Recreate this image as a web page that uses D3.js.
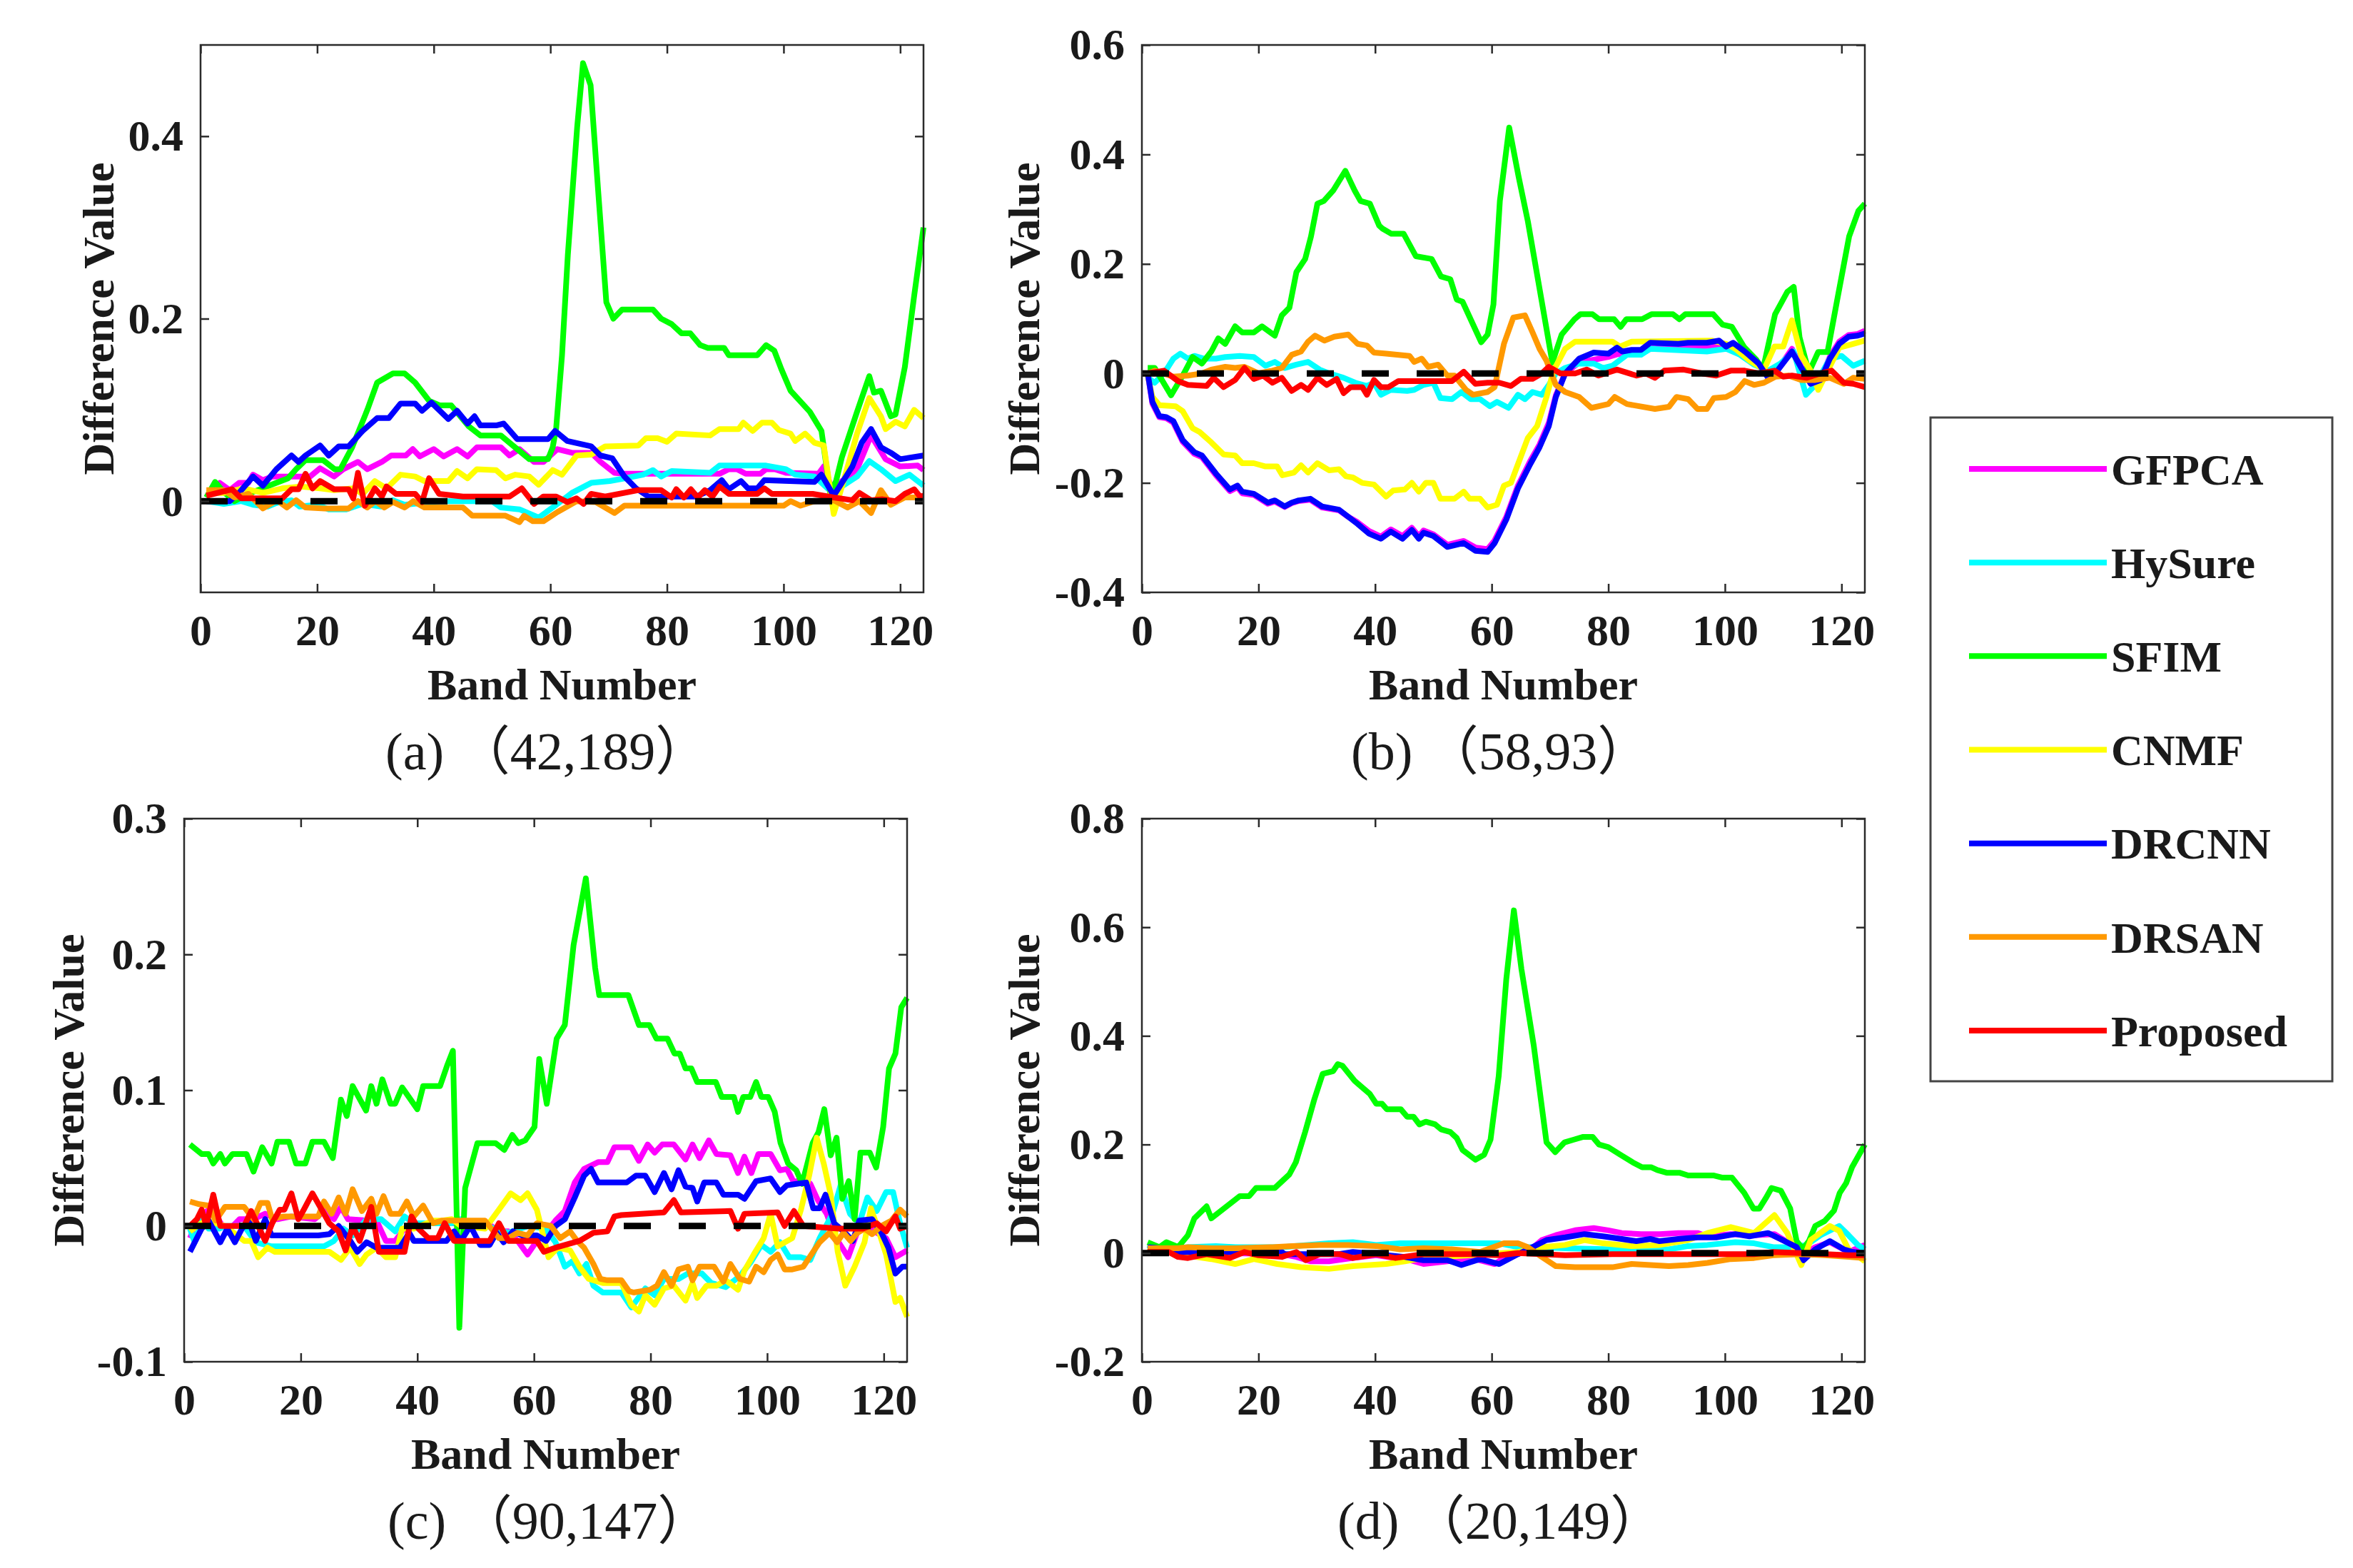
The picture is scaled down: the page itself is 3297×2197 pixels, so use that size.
<!DOCTYPE html>
<html>
<head>
<meta charset="utf-8">
<script src="https://cdn.jsdelivr.net/npm/d3@7"></script>
<style>
  body { margin: 0; background: #fff; }
  text { font-family: "Liberation Serif", "Times New Roman", serif; fill: #1a1a1a; }
</style>
</head>
<body>
<div id="chart"></div>
<script>
// Methods shown in every panel, and the tick labels
const methods = ["GFPCA", "HySure", "SFIM", "CNMF", "DRCNN", "DRSAN", "Proposed"];
const bandTicks = [0, 20, 40, 60, 80, 100, 120];
const captions = ["(a) （42,189）", "(b) （58,93）", "(c) （90,147）", "(d) （20,149）"];

// Panel (a) pixel (42,189) : [band, difference]
const a_GFPCA = [[1,0.004],[2,0.012],[3.3,0.02],[5,0.012],[6.6,0.02],[8.2,0.02],[9,0.029],[10.7,0.023],[12.3,0.027],[16.4,0.027],[18.8,0.027],[20.5,0.036],[22.9,0.027],[24.5,0.035],[27,0.043],[28.6,0.035],[31.1,0.043],[32.7,0.05],[35.2,0.05],[36.4,0.057],[37.6,0.049],[40,0.057],[41.7,0.049],[44,0.057],[45.8,0.049],[47.4,0.059],[51.5,0.059],[53,0.05],[54.7,0.057],[57.2,0.043],[58.8,0.043],[61.2,0.057],[63.7,0.053],[67,0.053],[68.6,0.043],[71,0.031],[72.7,0.03],[89,0.03],[90.6,0.035],[92,0.035],[93.5,0.03],[96,0.03],[97,0.035],[98.5,0.035],[100.4,0.031],[106,0.03],[106.9,0.038],[108.6,0.008],[110,0.022],[112.6,0.035],[115,0.072],[117.5,0.046],[120,0.038],[123,0.039],[124,0.034]];
const a_HySure = [[1,0],[4,-0.003],[7,0],[9,-0.004],[11.5,-0.006],[13,-0.002],[15.6,0.001],[17,-0.006],[20,-0.004],[22,-0.009],[25,-0.009],[27.8,-0.003],[31,-0.006],[33,0.001],[35,-0.004],[38,-0.002],[41,0],[50,0],[51.5,-0.007],[54.7,-0.009],[58,-0.018],[60.4,-0.007],[63.7,0.009],[67,0.02],[70.2,0.022],[72.7,0.025],[75.9,0.029],[77.6,0.034],[79,0.027],[80.8,0.033],[87.4,0.031],[89,0.039],[97,0.039],[100.4,0.035],[102,0.029],[105.3,0.027],[108.6,0.008],[110.2,0.017],[112.6,0.027],[114.7,0.044],[116.7,0.035],[119.2,0.022],[121.6,0.029],[124,0.017]];
const a_SFIM = [[1,0.004],[2.5,0.021],[4,0.01],[5.8,0],[7,0.004],[9,0.01],[11,0.015],[13,0.02],[15,0.025],[16.4,0.035],[18,0.045],[21,0.045],[23,0.035],[24,0.035],[26,0.059],[28.6,0.1],[30.3,0.13],[33,0.14],[35,0.14],[36.8,0.13],[39.2,0.11],[41,0.105],[43,0.105],[46,0.082],[48,0.072],[51.5,0.072],[53,0.064],[56.4,0.046],[59.6,0.046],[60.4,0.059],[61,0.08],[62,0.16],[63,0.27],[64.6,0.41],[65.6,0.48],[66.9,0.456],[68.2,0.34],[69.6,0.218],[70.8,0.2],[72.3,0.21],[77.6,0.21],[79,0.2],[80.8,0.194],[82.5,0.184],[84,0.184],[85.7,0.171],[87,0.168],[89.8,0.168],[90.6,0.16],[95.5,0.16],[97,0.171],[98.4,0.165],[99.6,0.145],[101.2,0.121],[104.5,0.098],[106.5,0.077],[108,0.009],[109,0.022],[110,0.048],[112.6,0.098],[114.7,0.137],[115.5,0.119],[116.7,0.121],[118.4,0.093],[119.2,0.095],[120.8,0.147],[122.4,0.225],[124,0.3]];
const a_CNMF = [[1,0.009],[4,0.009],[7.4,0.014],[10.7,0.009],[14,0.014],[17.2,0.016],[20.5,0.014],[22.9,0.012],[26.2,0.014],[27.8,0.008],[29.9,0.022],[31.9,0.014],[34.3,0.029],[36.8,0.027],[38.4,0.022],[42.5,0.022],[44,0.033],[45.8,0.025],[47.4,0.035],[50.7,0.034],[52.3,0.025],[54,0.029],[56.4,0.027],[58,0.018],[60.4,0.034],[62,0.029],[64.5,0.05],[67,0.051],[69.4,0.06],[75.1,0.061],[76.4,0.069],[78.4,0.069],[80,0.065],[81.6,0.074],[87.4,0.072],[89,0.079],[92.3,0.079],[93.1,0.086],[94.7,0.077],[96.3,0.086],[98,0.086],[99.2,0.078],[101.2,0.074],[102,0.066],[103.7,0.074],[105.3,0.064],[106.9,0.061],[108.6,-0.014],[110.2,0.02],[112.6,0.074],[114.7,0.113],[116.7,0.093],[117.5,0.079],[119.2,0.087],[120.8,0.082],[122.4,0.1],[124,0.091]];
const a_DRCNN = [[1,0],[5,0],[6.6,0.009],[9,0.027],[10.7,0.017],[13,0.035],[15.6,0.05],[16.8,0.043],[18,0.05],[20.5,0.061],[22,0.05],[23.7,0.06],[25.4,0.06],[27.8,0.077],[30.3,0.091],[32.3,0.091],[34.3,0.107],[36.8,0.107],[38,0.099],[39.6,0.108],[42.5,0.09],[44,0.099],[45.8,0.085],[47,0.093],[48,0.083],[50.7,0.083],[52,0.085],[54.3,0.068],[59.6,0.068],[60.8,0.077],[62.9,0.066],[67,0.06],[68.6,0.05],[70.6,0.047],[72.7,0.027],[74.7,0.014],[76.8,0.005],[85,0.005],[87.4,0.012],[89.4,0.023],[90.6,0.013],[92.7,0.022],[93.9,0.014],[95.5,0.014],[96.7,0.023],[105.3,0.021],[106.5,0.029],[108.6,0.006],[110.2,0.022],[111.8,0.038],[113.4,0.064],[115,0.079],[116.7,0.059],[118.4,0.053],[120,0.046],[124,0.05]];
const a_DRSAN = [[1,0.012],[4,0.012],[5.8,0.004],[8.2,0.008],[10.7,-0.008],[13.1,0.001],[14.8,-0.007],[16.4,0.001],[18,-0.007],[21.3,-0.008],[25.4,-0.008],[27,0],[28.6,-0.007],[30,0],[31.5,-0.007],[33,-0.001],[35,-0.007],[36.5,0],[38.4,-0.007],[45,-0.007],[46.6,-0.016],[52.3,-0.016],[54.7,-0.023],[55.5,-0.016],[57,-0.022],[58.8,-0.022],[61.2,-0.012],[64.5,0],[67.8,-0.001],[71,-0.013],[72.7,-0.005],[100,-0.005],[101.2,0],[102.9,-0.005],[105.3,0],[108.6,0.001],[111,-0.007],[113,0],[115,-0.013],[116.7,0.012],[118.4,-0.004],[120.8,0.004],[124,0.004]];
const a_Proposed = [[1,0.006],[5.4,0.013],[7,0.003],[14,0.003],[15.6,0.013],[16.8,0.013],[18,0.03],[19.2,0.014],[20.5,0.022],[22.9,0.013],[25.4,0.013],[26.2,0.003],[27,0.031],[28.2,-0.005],[29.9,0.014],[31.1,0.005],[31.9,0.016],[33.5,0.008],[36.8,0.008],[38,-0.001],[39.2,0.025],[40.9,0.008],[45,0.005],[53,0.005],[55.1,0.014],[57.2,-0.003],[58.8,0.005],[61,0.005],[62.9,-0.001],[64.5,0.003],[65.7,-0.003],[67,0.008],[69.4,0.005],[75,0.012],[79,0.012],[80.8,0.004],[81.6,0.013],[82.9,0.004],[84.1,0.013],[85.3,0.004],[86.5,0.012],[87.8,0.005],[89,0.016],[90.6,0.008],[95.5,0.008],[96.7,0.014],[98,0.008],[105,0.008],[108.6,0.004],[111.8,0.001],[113,0.009],[115,0.001],[117,0.002],[119.2,0],[120.8,0.008],[122.4,0.013],[123.4,0.005],[124,0.006]];

// Panel (b) pixel (58,93)
const b_GFPCA = [[1,0],[1.8,-0.055],[3,-0.08],[4.2,-0.082],[5.4,-0.09],[7,-0.125],[9,-0.147],[10.3,-0.153],[12.7,-0.186],[15.1,-0.215],[16.4,-0.208],[17.2,-0.219],[19.2,-0.222],[21.6,-0.238],[22.8,-0.234],[24.5,-0.244],[25.7,-0.237],[26.9,-0.233],[28.9,-0.231],[30.9,-0.245],[33.8,-0.25],[35.4,-0.262],[37,-0.272],[39,-0.288],[41,-0.298],[42.7,-0.285],[44.7,-0.297],[46.3,-0.282],[47.5,-0.297],[48.3,-0.287],[50,-0.294],[52.4,-0.313],[55.2,-0.306],[57.2,-0.318],[59.3,-0.321],[60.5,-0.305],[62.5,-0.262],[64.5,-0.205],[66.6,-0.16],[68.2,-0.13],[69.8,-0.09],[71,-0.04],[72.6,0],[75,0.02],[77.5,0.025],[80,0.03],[81.5,0.035],[84,0.035],[85.6,0.036],[87.2,0.045],[92,0.048],[96.9,0.05],[99,0.052],[100.2,0.045],[101.4,0.05],[103.4,0.035],[105.8,0.014],[107.4,-0.005],[109,0.006],[111.5,0.045],[113.1,0.012],[114.7,-0.016],[116.4,-0.01],[118,0.03],[119.6,0.058],[121.2,0.07],[122.8,0.072],[124,0.078]];
const b_HySure = [[1,-0.008],[2.2,-0.017],[3.8,0],[5.4,0.027],[6.6,0.036],[7.9,0.027],[9,0.032],[10.7,0.027],[12.7,0.027],[14.3,0.03],[16.8,0.032],[19.2,0.03],[21.2,0.014],[22.8,0.021],[24.5,0.01],[26.5,0.016],[28.5,0.021],[30.5,0.007],[32.1,0],[34.6,-0.008],[36.6,-0.017],[38.6,-0.023],[39.8,-0.017],[41,-0.039],[42.7,-0.03],[45.5,-0.032],[46.7,-0.03],[48.3,-0.021],[50,-0.017],[51.2,-0.045],[53.2,-0.047],[54.8,-0.034],[56.4,-0.047],[58,-0.047],[59.7,-0.06],[60.9,-0.052],[62.9,-0.063],[64.5,-0.039],[65.7,-0.047],[67,-0.034],[68.6,-0.039],[69.8,-0.021],[71,0],[72.6,0.01],[75,0.018],[77.5,0.018],[79.1,0.01],[80.7,0.014],[83.2,0.034],[85.6,0.034],[87.2,0.045],[96.9,0.04],[100.2,0.045],[102.6,0.034],[105,0.016],[107.4,0.005],[109.5,0.018],[111.8,0.04],[113.9,-0.039],[115.5,-0.021],[118,0.027],[120,0.032],[122,0.014],[124,0.023]];
const b_SFIM = [[1,0.01],[2.2,0.01],[5,-0.04],[7,-0.004],[8.7,0.03],[10.3,0.018],[11.9,0.04],[13.1,0.064],[14.3,0.054],[16,0.086],[17.2,0.075],[19.2,0.075],[20.6,0.086],[22.8,0.069],[24,0.106],[25.3,0.12],[26.5,0.185],[28,0.209],[29,0.25],[30.1,0.31],[31.2,0.315],[32.8,0.334],[34.9,0.37],[36.5,0.334],[37.5,0.315],[39.1,0.31],[40.7,0.27],[41.2,0.265],[42.8,0.255],[44.9,0.255],[47,0.214],[49.7,0.209],[51.3,0.177],[52.9,0.172],[54,0.135],[55,0.131],[58.2,0.057],[59.3,0.071],[60.3,0.126],[61.4,0.315],[63,0.449],[64.6,0.36],[66.2,0.278],[68.3,0.149],[70.4,0.02],[72,0.071],[74.2,0.099],[75.2,0.108],[77.3,0.108],[78.4,0.099],[81,0.099],[82.1,0.085],[83.1,0.099],[85.8,0.099],[87.4,0.108],[91.1,0.108],[92.2,0.099],[93.2,0.108],[98,0.108],[99.6,0.089],[101.2,0.085],[103.3,0.048],[105.4,0.025],[106.5,0.006],[108.6,0.108],[110.7,0.149],[111.8,0.158],[112.8,0.066],[114.4,0.002],[116,0.039],[117.6,0.039],[119.2,0.131],[121.3,0.25],[122.9,0.297],[124,0.31]];
const b_CNMF = [[1,-0.004],[1.8,-0.043],[3,-0.058],[5.8,-0.06],[7,-0.069],[8.7,-0.1],[9.9,-0.107],[11.9,-0.126],[14,-0.148],[16,-0.15],[17.2,-0.164],[19.2,-0.164],[21.2,-0.17],[23.2,-0.17],[24.1,-0.186],[26.1,-0.181],[27.3,-0.168],[28.5,-0.181],[30.1,-0.164],[32.1,-0.177],[33.8,-0.175],[35,-0.188],[36.2,-0.19],[37.8,-0.2],[39.8,-0.203],[41.9,-0.225],[43.1,-0.214],[45.1,-0.212],[46.3,-0.2],[47.5,-0.216],[48.7,-0.2],[50,-0.2],[51.2,-0.229],[53.6,-0.229],[55.2,-0.216],[56.2,-0.229],[58,-0.229],[59.3,-0.245],[60.9,-0.24],[62.1,-0.205],[63.3,-0.2],[64.5,-0.166],[66.2,-0.118],[67.8,-0.096],[69.4,-0.043],[70.6,0.005],[72.6,0.045],[74.3,0.058],[80.7,0.058],[82,0.049],[84,0.058],[97.7,0.06],[100.2,0.054],[101.8,0.045],[104.3,0.023],[106.7,0.007],[108.5,0.049],[110,0.049],[111.5,0.097],[113.1,0.032],[114.7,0.005],[116,-0.03],[117.4,0],[119.6,0.047],[122,0.054],[124,0.06]];
const b_DRCNN = [[1,0],[1.8,-0.052],[3,-0.078],[4.2,-0.08],[5.4,-0.087],[7,-0.122],[9,-0.144],[10.3,-0.15],[12.7,-0.183],[15.1,-0.212],[16.4,-0.205],[17.2,-0.216],[19.2,-0.22],[21.6,-0.236],[22.8,-0.232],[24.5,-0.243],[25.7,-0.236],[26.9,-0.232],[28.9,-0.229],[30.9,-0.243],[33.8,-0.249],[35.4,-0.262],[37,-0.275],[39,-0.293],[41,-0.302],[42.7,-0.289],[44.7,-0.302],[46.3,-0.286],[47.5,-0.302],[48.3,-0.291],[50,-0.297],[52.4,-0.317],[55.2,-0.31],[57.2,-0.324],[59.3,-0.326],[60.5,-0.31],[62.5,-0.267],[64.5,-0.21],[66.6,-0.166],[68.2,-0.135],[69.8,-0.096],[71,-0.043],[72.6,0],[75,0.027],[77.5,0.038],[80,0.036],[81.5,0.047],[82.4,0.04],[84,0.043],[85.6,0.043],[87.2,0.056],[92,0.054],[93.7,0.056],[96.9,0.056],[99,0.06],[100.2,0.049],[101.4,0.056],[103.4,0.04],[105.8,0.018],[107.4,-0.008],[109,0.005],[111.5,0.04],[113.1,0.01],[114.7,-0.019],[116.4,-0.012],[118,0.027],[119.6,0.054],[121.2,0.067],[122.8,0.069],[124,0.073]];
const b_DRSAN = [[1,0],[2.2,0.005],[5.4,-0.006],[7.9,-0.004],[10.3,0],[11.9,0.007],[14.3,0.012],[16,0.01],[17.6,0.012],[20,0],[22.4,0.005],[24,0.01],[25.7,0.034],[27.3,0.04],[28.5,0.058],[29.7,0.069],[31.3,0.06],[33,0.067],[35.4,0.071],[37,0.054],[38.6,0.051],[39.8,0.038],[41.9,0.036],[45.9,0.032],[46.7,0.021],[48,0.027],[49.1,0.012],[50.8,0.016],[52.4,-0.004],[53.6,-0.004],[55.6,-0.03],[56.8,-0.039],[59.3,-0.034],[60.5,-0.025],[62.1,0.054],[63.7,0.102],[65.7,0.106],[67,0.075],[68.2,0.045],[69.4,0.023],[71,-0.021],[72.6,-0.034],[75,-0.043],[77.1,-0.063],[80,-0.056],[81.1,-0.043],[83.2,-0.056],[88,-0.065],[90.4,-0.061],[91.7,-0.043],[93.7,-0.047],[95.3,-0.065],[96.9,-0.065],[98.1,-0.045],[100.2,-0.043],[101.8,-0.034],[103.4,-0.014],[105,-0.021],[106.7,-0.017],[108.7,-0.006],[110.9,-0.004],[113.1,-0.012],[115.5,-0.012],[118,-0.008],[120.4,-0.019],[122,-0.008],[124,-0.01]];
const b_Proposed = [[1,0],[3.8,0.005],[6.2,-0.014],[7.9,-0.021],[11.1,-0.023],[12.3,-0.008],[14,-0.025],[16,-0.012],[17.6,0.01],[19.2,-0.01],[20.8,-0.004],[22.4,-0.017],[24,-0.008],[25.7,-0.032],[27.3,-0.021],[28.5,-0.03],[30.1,-0.008],[31.7,-0.021],[33.4,-0.01],[34.6,-0.036],[35.8,-0.025],[37.8,-0.025],[38.6,-0.039],[39.8,-0.012],[41,-0.025],[42.3,-0.025],[44,-0.014],[53.2,-0.014],[55.2,0.003],[57.2,-0.019],[59.3,-0.017],[61.3,-0.017],[63.3,-0.023],[65,-0.01],[67,-0.01],[68.6,0],[69.8,0.012],[71.8,0],[74.3,0],[76.3,0.007],[78.3,-0.004],[81.5,0.007],[84.8,-0.004],[86.4,0],[88,-0.008],[89.6,0.005],[92.9,0.007],[96.1,0],[98.5,-0.004],[101,0.005],[103.4,0.005],[105.8,0],[108.5,0.005],[110,-0.006],[111.5,-0.004],[114,-0.008],[116.4,0],[118.3,0.005],[120.4,-0.017],[122,-0.019],[124,-0.025]];

// Panel (c) pixel (90,147)
const c_GFPCA = [[1,-0.009],[2.6,0.007],[4.6,0.013],[6.6,0],[7.9,-0.002],[9.5,0.005],[11.9,0.005],[13.9,0.009],[16,0.005],[18.4,0.007],[22.4,0.005],[24,0.011],[25.7,0.005],[26.9,0.014],[28.1,0.005],[31.3,0.004],[33,0.004],[34.6,-0.011],[36.2,-0.011],[37.8,-0.002],[39.4,0.002],[52,0.002],[54,-0.004],[55.6,-0.004],[57.2,-0.011],[58.9,-0.021],[60.5,-0.011],[62.1,-0.005],[63.7,0.004],[65.3,0.011],[67,0.032],[68.6,0.042],[71,0.047],[72.6,0.047],[73.8,0.058],[76.7,0.058],[78,0.048],[79.5,0.06],[80.7,0.054],[82,0.06],[84,0.06],[86,0.049],[87.2,0.06],[88.4,0.05],[90,0.063],[91.3,0.053],[93.7,0.052],[95,0.039],[96.1,0.051],[97.3,0.039],[98.5,0.053],[100.6,0.053],[102.2,0.041],[103.4,0.042],[104.6,0.032],[106.2,0.035],[107.4,0.031],[108.7,0.019],[110.2,0.009],[111.8,-0.009],[113.9,-0.023],[115.5,-0.004],[117.2,0],[118.8,-0.005],[120.4,-0.009],[122,-0.023],[124,-0.018]];
const c_HySure = [[1,-0.002],[1.8,-0.012],[3,0.005],[4.2,-0.002],[6,-0.002],[7,0],[10.3,0],[12.3,-0.012],[15,-0.015],[24,-0.015],[25.7,-0.011],[27.3,-0.002],[28.9,-0.007],[31.3,0.005],[33.8,0.005],[36.2,-0.004],[37.8,0.007],[39.4,0.002],[46,0.002],[47.5,0.005],[49,0.002],[52,0],[55.6,-0.005],[59,0],[62,-0.002],[63.7,-0.012],[65.3,-0.03],[66.6,-0.026],[67.8,-0.035],[69,-0.028],[70.2,-0.044],[71.8,-0.049],[75,-0.049],[76.7,-0.06],[79.1,-0.046],[80.7,-0.051],[82.3,-0.039],[84.8,-0.039],[86.4,-0.035],[88.8,-0.035],[90.4,-0.042],[92.9,-0.045],[95.3,-0.037],[97.3,-0.026],[99,-0.014],[100.6,-0.019],[102.2,-0.012],[103.8,-0.023],[105.8,-0.023],[107.4,-0.025],[109,-0.009],[111.2,0.009],[112.6,0.03],[114.2,0.009],[115.8,0.002],[117.2,0.021],[118.8,0.011],[120.4,0.025],[121.6,0.025],[122.8,0.002],[124,-0.016]];
const c_SFIM = [[1,0.06],[3,0.053],[4.2,0.053],[5,0.046],[6.2,0.053],[7,0.046],[8.3,0.053],[10.7,0.053],[11.9,0.04],[13.4,0.058],[15,0.046],[16,0.062],[18,0.062],[19.2,0.046],[20.8,0.046],[22,0.062],[24,0.062],[25.5,0.05],[26.9,0.093],[27.9,0.081],[28.9,0.103],[31.2,0.085],[32.1,0.103],[33,0.09],[34,0.108],[35.4,0.09],[36.2,0.09],[37.4,0.102],[40,0.086],[41,0.103],[43.9,0.103],[45.1,0.118],[46.1,0.129],[47.2,-0.075],[48.2,0.028],[50.3,0.061],[53.4,0.061],[54.9,0.056],[56.3,0.067],[57.3,0.061],[58.5,0.063],[60.1,0.073],[60.9,0.123],[62.2,0.09],[63.9,0.138],[65.3,0.148],[66.8,0.207],[68.9,0.256],[70.5,0.19],[71.2,0.17],[76.2,0.17],[78,0.148],[79.8,0.148],[81,0.138],[82.9,0.138],[84.1,0.127],[85,0.127],[86,0.116],[87,0.116],[88,0.106],[91.2,0.106],[92.2,0.095],[94.3,0.095],[95,0.084],[95.9,0.095],[97.1,0.095],[98.1,0.106],[99,0.095],[100.2,0.095],[101.3,0.084],[102.3,0.061],[103.6,0.046],[105,0.041],[106,0.031],[107.8,0.061],[108.8,0.069],[109.8,0.086],[110.9,0.052],[111.9,0.065],[112.9,0.02],[114,0.033],[115,0.005],[116,0.054],[117.6,0.054],[118.7,0.043],[119.9,0.073],[120.9,0.116],[122,0.127],[123,0.161],[124,0.168]];
const c_CNMF = [[1,-0.004],[2.2,0],[3.8,0.004],[7,0],[10.3,-0.011],[11.5,-0.011],[12.7,-0.023],[14.3,-0.016],[15.5,-0.019],[24.9,-0.019],[26.9,-0.025],[28.5,-0.016],[30.1,-0.028],[31.3,-0.021],[33,-0.016],[34.6,-0.023],[36.2,-0.023],[37.4,-0.002],[39.4,-0.002],[42.7,0.004],[44.3,0.004],[45.9,0.005],[47.5,0],[51.6,-0.002],[54,0.012],[56,0.024],[57.7,0.019],[58.9,0.024],[60.5,0.012],[62.5,-0.023],[64.1,-0.016],[66.2,-0.018],[67.8,-0.03],[69.4,-0.039],[71.8,-0.042],[75,-0.042],[76.7,-0.058],[78,-0.063],[79.1,-0.051],[80.7,-0.058],[82.3,-0.046],[84,-0.044],[86,-0.055],[87.2,-0.042],[88,-0.053],[89.6,-0.044],[91.3,-0.044],[92.9,-0.04],[95,-0.047],[96.1,-0.033],[97.7,-0.021],[99.4,-0.009],[100.6,0.009],[101.8,-0.015],[104.3,-0.009],[105.8,0.012],[107.2,0.037],[108.5,0.065],[109.7,0.046],[110.9,0.023],[112.1,-0.019],[113.4,-0.044],[115,-0.03],[116.7,-0.012],[117.8,0.013],[119,-0.002],[120.4,-0.021],[122,-0.056],[122.8,-0.053],[124,-0.067]];
const c_DRCNN = [[1,-0.019],[3,-0.002],[4.2,0.004],[6.2,-0.012],[7.4,-0.002],[8.7,-0.012],[9.9,-0.002],[11.1,0.004],[12.3,-0.011],[13.9,0.005],[15,-0.007],[23,-0.007],[24.9,-0.006],[26.5,0],[28.5,-0.011],[29.7,-0.019],[31.3,-0.012],[33,-0.016],[37,-0.016],[38.6,-0.005],[39.4,-0.011],[45,-0.011],[46.3,-0.004],[47.5,-0.011],[49.1,0],[50.8,-0.014],[52.4,-0.014],[53.6,-0.005],[54.8,-0.012],[56.4,-0.004],[58,-0.007],[60.5,-0.007],[62.1,-0.011],[63.7,0],[65.3,0.005],[67,0.021],[68.6,0.037],[69.8,0.042],[71,0.032],[75.9,0.032],[77.5,0.037],[79.1,0.037],[80.7,0.025],[82.3,0.039],[83.6,0.027],[84.8,0.041],[86,0.029],[87.2,0.028],[88,0.018],[89.2,0.032],[91.3,0.032],[92.5,0.023],[95,0.023],[96.1,0.02],[98.1,0.033],[100.6,0.035],[102.2,0.025],[103.4,0.03],[105,0.031],[106.7,0.032],[107.9,0.013],[109,0.013],[110,0.023],[111.5,0.002],[113.1,-0.004],[114.7,-0.011],[115.8,0.004],[118,0.005],[119.6,-0.005],[120.8,-0.016],[122,-0.035],[123.2,-0.03],[124,-0.03]];
const c_DRSAN = [[1,0.018],[2.6,0.016],[4.2,0.015],[5.4,0.004],[7,0.014],[10.3,0.014],[11.9,0.005],[13.1,0.017],[14.3,0.017],[15.1,0.005],[17,0.007],[23,0.007],[24,0.018],[25.3,0.009],[26.5,0.021],[27.7,0.009],[28.9,0.027],[30.5,0.011],[32.1,0.02],[33,0.009],[34.2,0.022],[35.4,0.009],[37,0.009],[38.2,0.018],[39.4,0.007],[41,0.015],[42.7,0.002],[44.3,0.004],[51.6,0.004],[54,-0.009],[55.6,-0.009],[57.2,-0.005],[58.9,-0.007],[60.5,0.002],[62.9,0],[64.5,-0.009],[66.2,-0.004],[67.4,-0.011],[68.6,-0.016],[70.2,-0.028],[71.4,-0.039],[72.6,-0.04],[75,-0.04],[76.3,-0.048],[77.1,-0.049],[79.9,-0.047],[81.1,-0.044],[82.3,-0.034],[83.6,-0.044],[84.8,-0.032],[86.4,-0.03],[87.2,-0.04],[88.4,-0.03],[90.9,-0.03],[92.5,-0.041],[93.7,-0.028],[95.3,-0.039],[96.9,-0.041],[98.1,-0.03],[99.4,-0.034],[100.6,-0.025],[101.8,-0.021],[103,-0.032],[104.3,-0.032],[106.2,-0.03],[107.9,-0.019],[109,-0.012],[110.7,-0.005],[112,-0.012],[113.1,-0.005],[114.3,-0.011],[115.5,-0.005],[116.7,-0.002],[118,-0.006],[119.6,0],[121.3,0.004],[122.8,0.012],[124,0.007]];
const c_Proposed = [[1,0],[2.2,0.005],[3,0.012],[3.8,0],[5,0.023],[6.2,0],[10.3,0],[11.5,0.011],[12.7,0],[13.9,-0.011],[15.1,0.002],[16.4,0.012],[17.2,0.012],[18.4,0.024],[19.6,0.005],[20.4,0.011],[22,0.024],[23.6,0.012],[24.9,0.002],[26.5,-0.004],[27.7,-0.018],[28.9,0],[30.1,-0.011],[32.1,0.014],[33.4,-0.019],[37.8,-0.019],[39,0.007],[40.2,-0.002],[41.9,-0.009],[43.5,-0.009],[44.7,0.002],[46.3,-0.011],[52.4,-0.011],[54,0.002],[55.6,-0.011],[60.5,-0.011],[61.7,-0.019],[63.7,-0.016],[67.8,-0.011],[70.2,-0.005],[72.6,-0.004],[73.8,0.007],[75,0.008],[82.3,0.01],[84,0.019],[85.2,0.01],[93.7,0.011],[95,-0.002],[96.1,0.009],[101.8,0.01],[103,0],[104.6,0.011],[106.2,0],[112.3,-0.002],[116.4,-0.002],[118.8,0.002],[120.4,-0.004],[122,0.007],[122.8,-0.002],[124,0]];

// Panel (d) pixel (20,149)
const d_GFPCA = [[1,0.015],[3,0.007],[6.2,0.002],[24,-0.002],[26.5,-0.007],[28.9,-0.015],[32.1,-0.015],[36.2,-0.009],[40.2,-0.004],[46,-0.013],[48.3,-0.02],[52.4,-0.015],[56.4,-0.009],[60.5,-0.02],[62.9,-0.004],[66.2,0.002],[68.6,0.024],[71,0.033],[74.3,0.042],[77.5,0.046],[80,0.042],[82.3,0.037],[85.6,0.035],[88.8,0.035],[92,0.037],[95.3,0.037],[97,0.031],[101,0.035],[105,0.033],[108.5,0.035],[111.5,0.015],[113.1,-0.004],[115.5,0.011],[118,0.02],[121.2,0.002],[124,0.015]];
const d_HySure = [[1,0.015],[3,0.007],[7.9,0.011],[12.7,0.013],[16,0.011],[24,0.011],[32.1,0.018],[36.2,0.02],[40.2,0.015],[44.3,0.018],[48.3,0.018],[52.4,0.018],[56.4,0.018],[61.3,0.018],[64.5,0.011],[68.6,0.011],[72.6,0.009],[80.7,0.007],[87.2,0.007],[90.4,0.007],[93.7,0.013],[97,0.015],[101.8,0.02],[105,0.018],[108.3,0.011],[111.5,0.011],[114,0.015],[116.4,0.033],[119.6,0.05],[121.2,0.033],[122.8,0.015],[124,0.007]];
const d_SFIM = [[1,0.02],[3,0.011],[4.2,0.02],[5.4,0.015],[6.2,0.011],[7.9,0.033],[9,0.064],[11.1,0.086],[11.9,0.064],[16.8,0.105],[18.4,0.105],[19.6,0.12],[22.8,0.12],[25.3,0.145],[26.4,0.167],[28,0.223],[29.6,0.284],[31,0.33],[32.8,0.335],[33.6,0.348],[34.4,0.345],[36.5,0.317],[39.1,0.293],[40.2,0.275],[41.2,0.275],[42,0.265],[44.4,0.265],[45.5,0.251],[46.6,0.251],[47.6,0.237],[48.7,0.242],[50.3,0.237],[51.3,0.228],[52.9,0.223],[54,0.212],[55,0.19],[57.2,0.172],[58.7,0.181],[59.8,0.209],[61.2,0.326],[62.5,0.504],[63.8,0.631],[65.1,0.523],[67.2,0.383],[69.4,0.204],[70.9,0.186],[72.5,0.204],[74.1,0.209],[75.7,0.214],[77.3,0.214],[78.4,0.2],[80,0.195],[82.1,0.181],[84.2,0.167],[85.8,0.158],[87.4,0.158],[88.4,0.153],[90,0.148],[92.2,0.148],[93.7,0.143],[98,0.143],[99.6,0.139],[101.2,0.139],[103.3,0.111],[104.9,0.082],[105.9,0.082],[107,0.101],[108,0.12],[109.6,0.115],[111.2,0.082],[112.3,0.022],[113.4,0.008],[114.4,0.022],[115.5,0.05],[117.1,0.059],[118.7,0.078],[119.7,0.111],[120.8,0.129],[121.8,0.158],[124,0.2]];
const d_CNMF = [[1,0.011],[6.2,-0.002],[11.9,-0.011],[16,-0.02],[19.2,-0.011],[23.2,-0.02],[27.3,-0.026],[32.1,-0.029],[36.2,-0.024],[41.9,-0.02],[45.1,-0.015],[48.3,-0.009],[56.4,-0.004],[64.5,0.002],[68.6,0.011],[72.6,0.015],[75.9,0.024],[79.1,0.018],[84,0.013],[88.8,0.015],[93.7,0.024],[97,0.037],[101,0.048],[105,0.037],[108.5,0.07],[110.7,0.037],[113.1,-0.022],[114.7,0.024],[118,0.05],[119.6,0.041],[121.2,0.007],[124,-0.015]];
const d_DRCNN = [[1,0.011],[3,0.009],[6.2,0.002],[24,0.002],[24.5,-0.002],[33.8,-0.002],[36.2,0.002],[40.2,-0.002],[45,-0.007],[48.3,-0.013],[52.4,-0.013],[54.8,-0.022],[58,-0.011],[61.3,-0.02],[64.5,-0.002],[67,0.011],[69.4,0.024],[72.6,0.029],[75.9,0.035],[79.1,0.031],[82.3,0.026],[84.8,0.022],[87.2,0.026],[88.8,0.022],[92,0.026],[95.3,0.029],[98.5,0.029],[101.8,0.035],[104.2,0.031],[107.4,0.037],[109.9,0.024],[112.3,0.011],[113.5,-0.013],[115.5,0.007],[118,0.022],[120.4,0.007],[122,0.002],[124,0]];
const d_DRSAN = [[1,0.009],[6.2,0.009],[7.9,0.011],[12,0.009],[16,0.009],[22.4,0.011],[25.7,0.013],[30.5,0.015],[35.4,0.015],[40.2,0.013],[44.3,0.007],[48.3,0.009],[53.2,0.007],[58,0.002],[62.1,0.018],[64.5,0.018],[66.2,0.011],[68.6,-0.007],[71,-0.024],[74.3,-0.026],[80.7,-0.026],[84,-0.02],[87.2,-0.022],[90.4,-0.024],[93.7,-0.022],[97,-0.018],[101,-0.011],[105,-0.009],[108.3,-0.004],[113.1,-0.002],[117.2,-0.004],[121.2,-0.007],[124,-0.009]];
const d_Proposed = [[1,0.002],[4.6,0.002],[6.2,-0.007],[7.9,-0.009],[11.1,-0.002],[15.1,-0.009],[17.6,0.002],[20,-0.004],[24,-0.007],[26.5,0.002],[28.1,-0.013],[30.5,-0.002],[34,-0.002],[36.2,-0.009],[40.2,-0.002],[43.5,-0.009],[48.3,-0.002],[56.4,-0.002],[61.3,-0.004],[64.5,0],[68.6,-0.002],[72.6,-0.004],[80.7,-0.002],[89,-0.002],[97,-0.002],[105,-0.002],[108.3,0.002],[113.1,0],[117.2,-0.002],[121.2,-0.004],[124,-0.004]];

// y ranges and ticks per panel
const yDomains = [[-0.1, 0.5], [-0.4, 0.6], [-0.1, 0.3], [-0.2, 0.8]];
const yTickValues = [[0, 0.2, 0.4], [-0.4, -0.2, 0, 0.2, 0.4, 0.6], [-0.1, 0, 0.1, 0.2, 0.3], [-0.2, 0, 0.2, 0.4, 0.6, 0.8]];

const seriesByPanel = [
  [a_GFPCA, a_HySure, a_SFIM, a_CNMF, a_DRCNN, a_DRSAN, a_Proposed],
  [b_GFPCA, b_HySure, b_SFIM, b_CNMF, b_DRCNN, b_DRSAN, b_Proposed],
  [c_GFPCA, c_HySure, c_SFIM, c_CNMF, c_DRCNN, c_DRSAN, c_Proposed],
  [d_GFPCA, d_HySure, d_SFIM, d_CNMF, d_DRCNN, d_DRSAN, d_Proposed]
];

// ---- layout / style ----
const svgWidth = 3297;
const svgHeight = 2197;
const colors = ["#ff00ff", "#00ffff", "#00ff00", "#ffff00", "#0000ff", "#ff9900", "#ff0000"];
const plotW = 1013;
const layout = [
  { left: 281,  top: 63,   h: 767, labelOff: 122, capX: 540 },
  { left: 1600, top: 63,   h: 767, labelOff: 144, capX: 1893 },
  { left: 258,  top: 1147, h: 761, labelOff: 141, capX: 543 },
  { left: 1600, top: 1147, h: 761, labelOff: 144, capX: 1874 }
];
const lineWidth = 8;
const tickFont = 62;

const svg = d3.select("#chart")
  .append("svg")
  .attr("width", svgWidth)
  .attr("height", svgHeight)
  .style("background", "#fff");

const fmt = v => v === 0 ? "0" : String(+v.toFixed(2));

layout.forEach(function(p, i) {
  const x = d3.scaleLinear().domain([0, 124]).range([p.left, p.left + plotW]);
  const y = d3.scaleLinear().domain(yDomains[i]).range([p.top + p.h, p.top]);
  const g = svg.append("g");

  // lines
  const line = d3.line().x(d => x(d[0])).y(d => y(d[1]));
  seriesByPanel[i].forEach(function(s, k) {
    g.append("path")
      .datum(s)
      .attr("fill", "none")
      .attr("stroke", colors[k])
      .attr("stroke-width", lineWidth)
      .attr("stroke-linejoin", "round")
      .attr("d", line);
  });

  // dashed zero reference
  g.append("path")
    .datum([[0, 0], [124, 0]])
    .attr("fill", "none")
    .attr("stroke", "#000")
    .attr("stroke-width", 9)
    .attr("stroke-dasharray", "38,39")
    .attr("d", line);

  // box
  g.append("rect")
    .attr("x", p.left).attr("y", p.top)
    .attr("width", plotW).attr("height", p.h)
    .attr("fill", "none")
    .attr("stroke", "#2b2b2b")
    .attr("stroke-width", 2.5);

  // axes with inward ticks
  const styleAxis = sel => {
    sel.select(".domain").remove();
    sel.selectAll(".tick line").attr("stroke", "#2b2b2b").attr("stroke-width", 2.5);
    sel.selectAll(".tick text")
      .style("font-size", tickFont + "px")
      .style("font-weight", "bold")
      .attr("fill", "#1a1a1a");
  };

  g.append("g")
    .attr("transform", `translate(0,${p.top + p.h})`)
    .call(d3.axisBottom(x).tickValues(bandTicks).tickSize(-12).tickPadding(30).tickFormat(fmt))
    .call(styleAxis);
  g.append("g")
    .attr("transform", `translate(0,${p.top})`)
    .call(d3.axisTop(x).tickValues(bandTicks).tickSize(-12).tickFormat(""))
    .call(styleAxis);
  g.append("g")
    .attr("transform", `translate(${p.left},0)`)
    .call(d3.axisLeft(y).tickValues(yTickValues[i]).tickSize(-12).tickPadding(24).tickFormat(fmt))
    .call(styleAxis);
  g.append("g")
    .attr("transform", `translate(${p.left + plotW},0)`)
    .call(d3.axisRight(y).tickValues(yTickValues[i]).tickSize(-12).tickFormat(""))
    .call(styleAxis);

  // axis titles
  g.append("text")
    .attr("x", p.left + plotW / 2)
    .attr("y", p.top + p.h + 150)
    .attr("text-anchor", "middle")
    .style("font-size", "62px")
    .style("font-weight", "bold")
    .text("Band Number");

  g.append("text")
    .attr("transform", `translate(${p.left - p.labelOff},${p.top + p.h / 2}) rotate(-90)`)
    .attr("text-anchor", "middle")
    .style("font-size", "62px")
    .style("font-weight", "bold")
    .text("Difference Value");

  // caption
  g.append("text")
    .attr("x", p.capX)
    .attr("y", p.top + p.h + 248)
    .attr("text-anchor", "start")
    .style("font-size", "74px")
    .style("font-family", "'Liberation Serif', 'Times New Roman', 'Noto Sans CJK SC', serif")
    .text(captions[i]);
});

// legend
const legend = svg.append("g");
legend.append("rect")
  .attr("x", 2705).attr("y", 585)
  .attr("width", 563).attr("height", 930)
  .attr("fill", "#fff")
  .attr("stroke", "#444")
  .attr("stroke-width", 3);

const legendY = d3.scalePoint().domain(methods).range([657, 1444]);
methods.forEach(function(m, k) {
  legend.append("line")
    .attr("x1", 2759).attr("x2", 2952)
    .attr("y1", legendY(m)).attr("y2", legendY(m))
    .attr("stroke", colors[k])
    .attr("stroke-width", lineWidth);
  legend.append("text")
    .attr("x", 2958)
    .attr("y", legendY(m))
    .attr("dy", "0.35em")
    .style("font-size", "62px")
    .style("font-weight", "bold")
    .text(m);
});
</script>
</body>
</html>
